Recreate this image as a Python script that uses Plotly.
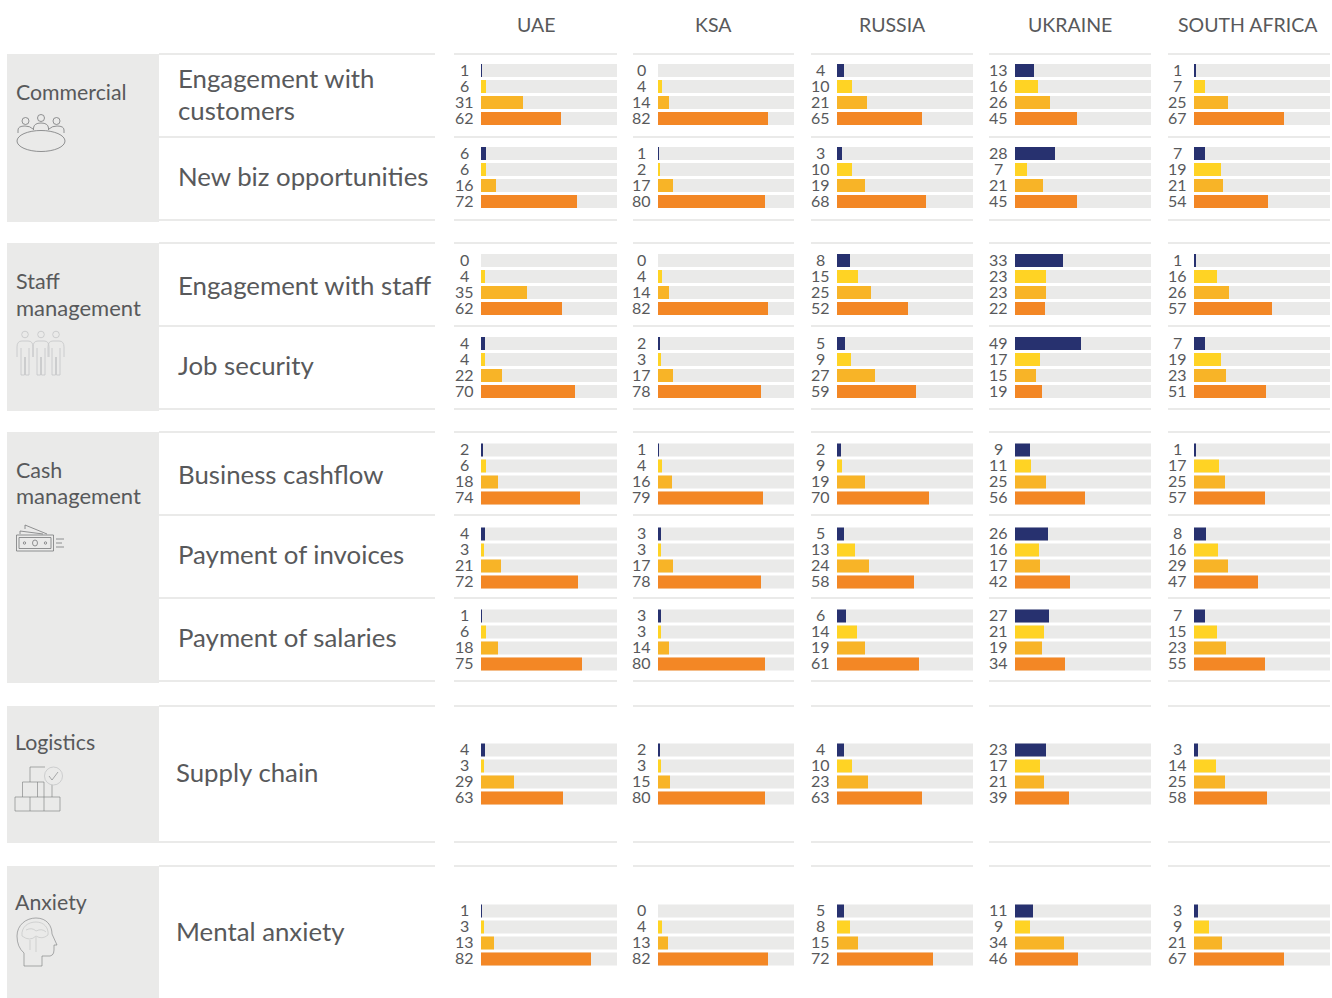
import plotly.graph_objects as go

W, H = 1332, 998
countries = ["UAE", "KSA", "RUSSIA", "UKRAINE", "SOUTH AFRICA"]

# printed labels
uae = [[1,6,31,62],[6,6,16,72],[0,4,35,62],[4,4,22,70],[2,6,18,74],[4,3,21,72],[1,6,18,75],[4,3,29,63],[1,3,13,82]]
ksa = [[0,4,14,82],[1,2,17,80],[0,4,14,82],[2,3,17,78],[1,4,16,79],[3,3,17,78],[3,3,14,80],[2,3,15,80],[0,4,13,82]]
russia = [[4,10,21,65],[3,10,19,68],[8,15,25,52],[5,9,27,59],[2,9,19,70],[5,13,24,58],[6,14,19,61],[4,10,23,63],[5,8,15,72]]
ukraine = [[13,16,26,45],[28,7,21,45],[33,23,23,22],[49,17,15,19],[9,11,25,56],[26,16,17,42],[27,21,19,34],[23,17,21,39],[11,9,34,46]]
south_africa = [[1,7,25,67],[7,19,21,54],[1,16,26,57],[7,19,23,51],[1,17,25,57],[8,16,29,47],[7,15,23,55],[3,14,25,58],[3,9,21,67]]
labels = [uae, ksa, russia, ukraine, south_africa]

# bar lengths as drawn in the picture (the source's bars do not follow the printed labels exactly),
# read on a track scale of 0-136
uae_len = [[1,5,42,80],[5,5,15,96],[0,4,46,81],[4,4,21,94],[2,5,17,99],[4,3,20,97],[1,5,17,101],[4,3,33,82],[1,3,13,110]]
ksa_len = [[0,4,11,110],[1,2,15,107],[0,4,11,110],[2,3,15,103],[1,4,14,105],[3,3,15,103],[3,3,11,107],[2,3,12,107],[0,4,10,110]]
russia_len = [[7,15,30,85],[5,15,28,89],[13,21,34,71],[8,14,38,79],[4,5,28,92],[7,18,32,77],[9,20,28,82],[7,15,31,85],[7,13,21,96]]
ukraine_len = [[19,23,35,62],[40,12,28,62],[48,31,31,30],[66,25,21,27],[15,16,31,70],[33,24,25,55],[34,29,27,50],[31,25,29,54],[18,15,49,63]]
south_africa_len = [[2,11,34,90],[11,27,29,74],[2,23,35,78],[11,27,32,72],[2,25,31,71],[12,24,34,64],[11,23,32,71],[4,22,31,73],[4,15,28,90]]
lengths = [uae_len, ksa_len, russia_len, ukraine_len, south_africa_len]

FONT = "Lato"
TXT = "#58595b"
GREY = "#eaeae9"
ICON = "#77787a"
ICON_L = "#c4c5c6"
bar_colors = ["#27316f", "#ffd324", "#f8b427", "#f38725"]

col_x = [481, 658, 837, 1015, 1194]
col_rule = [(454, 617), (633, 794), (811, 973), (989, 1151), (1168, 1330)]
row_top = [62.5, 145.5, 252.5, 335.5, 442, 526, 608, 742, 903]
BAR_W, ROW_H = 136, 64
XMAX = 136

fig = go.Figure()
annotations, shapes = [], []

fig.update_layout(
    xaxis=dict(domain=[0, 1], range=[0, W], visible=False, fixedrange=True),
    yaxis=dict(domain=[0, 1], range=[H, 0], visible=False, fixedrange=True),
)

def rect(x0, y0, x1, y1, color=GREY):
    shapes.append(dict(type="rect", xref="x", yref="y", x0=x0, y0=y0, x1=x1, y1=y1,
                       fillcolor=color, line_width=0, layer="below"))

def path(d, color=ICON, w=0.8):
    shapes.append(dict(type="path", xref="x", yref="y", path=d, line=dict(color=color, width=w), layer="above"))

def oval(x, y, rx, ry, color=ICON, w=0.8):
    shapes.append(dict(type="circle", xref="x", yref="y", x0=x-rx, x1=x+rx, y0=y-ry, y1=y+ry,
                       line=dict(color=color, width=w), layer="above"))

def text(x, y, s, size, anchor="left"):
    annotations.append(dict(xref="x", yref="y", x=x, y=y, text=s, showarrow=False, xanchor=anchor,
                            yanchor="middle", align="left", borderpad=0, borderwidth=0,
                            font=dict(family=FONT, size=size, color=TXT)))

for y0, y1 in [(54, 222), (243, 411), (432, 683), (706, 843), (866, 998)]:
    rect(7, y0, 159, y1)
for y in [54, 137, 220, 243, 326, 409, 432, 515, 598, 681, 706, 842, 866]:
    rect(159, y-1, 435, y+1)
    for a, b in col_rule:
        rect(a, y-1, b, y+1)

for cx, name in zip([536, 713, 892, 1070, 1248], countries):
    text(cx, 24, name, 19.5, "center")

left = [(16, 92, "Commercial", 21.3), (16, 281, "Staff", 21.5), (16, 307.5, "management", 22), (16, 470, "Cash", 21.5),
        (16, 495.5, "management", 22), (15, 742, "Logistics", 21.3), (15, 902, "Anxiety", 21.3)]
for x, y, s, fs in left:
    text(x, y, s, fs)
items = [(178, 78, "Engagement with"), (178, 110, "customers"), (178, 176, "New biz opportunities"),
         (178, 285, "Engagement with staff"), (178, 365, "Job security"), (178, 474, "Business cashflow"),
         (178, 554, "Payment of invoices"), (178, 637, "Payment of salaries"), (176, 772, "Supply chain"),
         (176, 931, "Mental anxiety")]
for x, y, s in items:
    text(x, y, s, 25.8)

# icon: meeting table
oval(41, 141, 24, 10.5)
for cx, cy in [(25.5, 121), (41, 118), (56.5, 121)]:
    oval(cx, cy, 3.5, 3.5)
path("M18 133 V130 Q18 126 25 126 Q30 126 33 129")
path("M33.5 130 V128 Q34 123 41 123 Q48 123 48.5 128 V130")
path("M49 129 Q52 126 57 126 Q64 126 64 130 V133")
# icon: staff
for cx in (25, 41, 56):
    oval(cx, 334.5, 3.3, 3.3, ICON_L)
    path(f"M{cx-8} 357 V347 Q{cx-8} 341 {cx-3} 341 H{cx+3} Q{cx+8} 341 {cx+8} 347 V357", ICON_L)
    path(f"M{cx-4} 348 V375 H{cx-0.5} V357 M{cx+0.5} 357 V375 H{cx+4} V348", ICON_L)
# icon: cash
for d in ["M16.5 535 H53.5 V551 H16.5 Z", "M19 537.5 H51 V548.5 H19 Z", "M20 534 V531 L43 534", "M25 529 V525 L47 534",
          "M56 539 H64 M56 543 H62 M56 547 H64"]:
    path(d)
oval(35, 543, 2.5, 3)
oval(24.5, 543, 1.2, 1.2)
oval(45.5, 543, 1.2, 1.2)
# icon: boxes
for d in ["M15 797 H60 V811 H15 Z", "M30 797 V811", "M44 797 V811", "M22.5 797 V782 H44 V797", "M37.5 782 V797",
          "M30 782 V767 H45", "M52 785 V797", "M49 776 L52 780 L58 772"]:
    path(d, ICON, 0.6)
oval(53.5, 776, 9, 9, ICON_L)
# icon: head
path("M24 966 V953 Q17 947 17 936 C17 925 26 918 36 918 C47 918 52 926 52 934 L57 945 H54 V950 Q54 957 47 956 H42 V966 Z", ICON, 0.6)
path("M22 936 C21 927 28 922 36 922 C44 922 49 928 48 935 Q42 940 36 936 Q30 942 22 936 M30 940 V950 M36 937 V952 M26 930 Q32 927 36 931 M36 931 Q42 928 46 932", ICON_L, 0.7)

k = 1
for c, (cx0, series, lens) in enumerate(zip(col_x, labels, lengths)):
    for r, (top, vals, ln) in enumerate(zip(row_top, series, lens)):
        k += 1
        xa, ya = f"x{k}", f"y{k}"
        fig.update_layout(**{
            f"xaxis{k}": dict(domain=[cx0 / W, (cx0 + BAR_W) / W], range=[0, XMAX], visible=False,
                              anchor=ya, fixedrange=True),
            f"yaxis{k}": dict(domain=[1 - (top + ROW_H) / H, 1 - top / H], range=[3.5, -0.5], visible=False,
                              anchor=xa, fixedrange=True),
        })
        idx = [0, 1, 2, 3]
        fig.add_trace(go.Bar(x=[XMAX] * 4, y=idx, orientation="h", width=0.81, marker=dict(color=GREY, line_width=0),
                             xaxis=xa, yaxis=ya, hoverinfo="skip", showlegend=False))
        fig.add_trace(go.Bar(x=ln, y=idx, orientation="h", width=0.81, customdata=vals,
                             hovertemplate="%{customdata}<extra></extra>",
                             marker=dict(color=bar_colors, line_width=0),
                             xaxis=xa, yaxis=ya, showlegend=False))
        for i, v in enumerate(vals):
            annotations.append(dict(xref=f"{xa} domain", yref=ya, x=-16.5 / BAR_W, y=i - 0.08, text=str(v), showarrow=False,
                                    xanchor="center", yanchor="middle", borderpad=0,
                                    font=dict(family=FONT, size=16, color=TXT)))

fig.update_layout(width=W, height=H, margin=dict(l=0, r=0, t=0, b=0), autosize=False, barmode="overlay",
                  paper_bgcolor="white", plot_bgcolor="rgba(0,0,0,0)", annotations=annotations, shapes=shapes,
                  showlegend=False)
fig.write_html("out.html", config={"displayModeBar": False},
               post_script="document.body.style.margin='0';document.body.style.overflow='hidden';")
